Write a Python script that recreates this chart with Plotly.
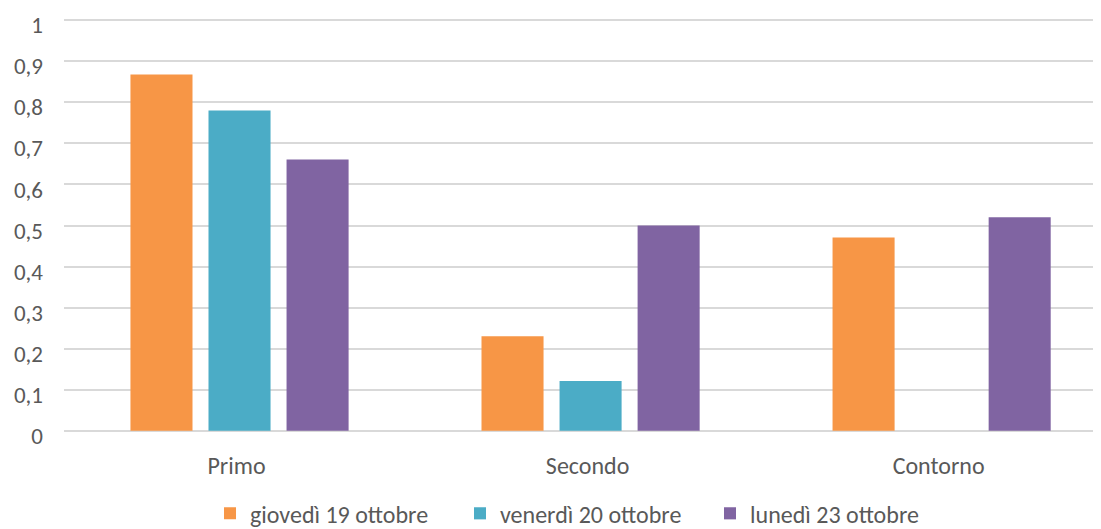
import plotly.graph_objects as go

categories = ["Primo", "Secondo", "Contorno"]
series_names = ["giovedì 19 ottobre", "venerdì 20 ottobre", "lunedì 23 ottobre"]
giovedi = [0.868, 0.230, 0.471]
venerdi = [0.780, 0.121, None]
lunedi = [0.661, 0.500, 0.520]
colors = ["#F79646", "#4BACC6", "#8064A2"]
tick_vals = [0, 0.1, 0.2, 0.3, 0.4, 0.5, 0.6, 0.7, 0.8, 0.9, 1]
tick_text = ["0", "0,1", "0,2", "0,3", "0,4", "0,5", "0,6", "0,7", "0,8", "0,9", "1"]

FONT = "Carlito, Calibri, Lato, 'Open Sans', sans-serif"

fig = go.Figure()
for name, vals, c in zip(series_names, [giovedi, venerdi, lunedi], colors):
    fig.add_trace(go.Bar(name=name, x=categories, y=vals, marker_color=c,
                         marker_line_width=0))

# the page body adds an 8px offset, so the figure is sized 8px smaller
fig.update_layout(
    width=1093, height=521,
    margin=dict(l=56, r=0, t=11, b=97, autoexpand=False),
    paper_bgcolor="white", plot_bgcolor="white",
    barmode="group", bargap=0.333, bargroupgap=0.205,
    font=dict(family=FONT, size=24, color="#595959"),
    showlegend=True,
    legend=dict(orientation="h", x=0.1408, xanchor="left", y=-0.198, yanchor="middle",
                font=dict(size=24, color="#595959"), itemwidth=30,
                entrywidth=205, entrywidthmode="pixels",
                traceorder="normal"),
    xaxis=dict(range=[-0.5, 2.454], showgrid=False, showline=False, zeroline=False,
               ticks="", ticklabelstandoff=17, ticklabelshift=-3,
               tickfont=dict(size=24)),
    yaxis=dict(range=[-0.003, 1.003], tickvals=tick_vals, ticktext=tick_text,
               showgrid=True, gridcolor="#D9D9D9", gridwidth=1.5,
               zeroline=False, showline=False, ticks="", ticklabelstandoff=20,
               ticklabelshift=5, ticklabeloverflow="allow",
               tickfont=dict(size=23)),
)

fig.write_html("out.html")
